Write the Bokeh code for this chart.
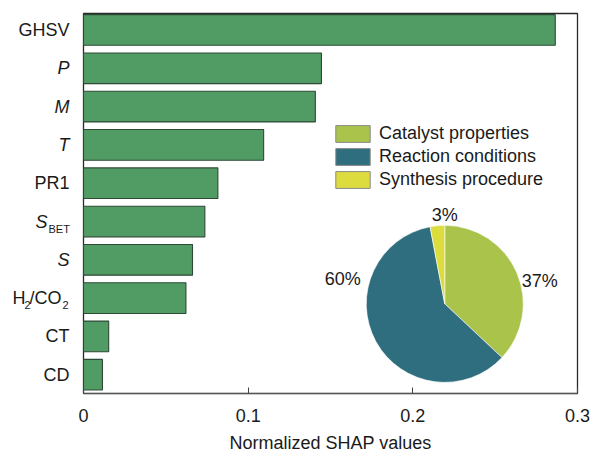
from bokeh.plotting import figure
from bokeh.layouts import row, column
from bokeh.models import (Range1d, Label, Legend, LegendItem, FixedTicker,
                          NumeralTickFormatter, ColumnDataSource)
from bokeh.core.properties import value
from bokeh.embed import file_html
from bokeh.resources import INLINE
import numpy as np

# ---- data ----
features = ["GHSV", "P", "M", "T", "PR1", "S_BET", "S", "H2/CO2", "CT", "CD"]
shap_values = [0.2865, 0.1445, 0.1408, 0.1094, 0.0816, 0.0737, 0.0662, 0.0622, 0.0153, 0.0115]
groups = ["Catalyst properties", "Reaction conditions", "Synthesis procedure"]
group_share = [37, 60, 3]
group_colors = ["#A9C34B", "#2F6E7E", "#DCDC3F"]
x_ticks = [0, 0.1, 0.2, 0.3]
x_title = "Normalized SHAP values"

FONT = "Liberation Sans"
TXT = "#1a1a1a"
H = 430          # height of bar panel
TOP, BOT = 13, 37
LW = 75          # width of label column

yr = Range1d(9.49, -0.43)
ypos = list(range(len(features)))

# ---------- label column (left) ----------
pl = figure(width=LW, height=H, output_backend="svg", toolbar_location=None,
            x_range=Range1d(0, LW), y_range=yr,
            min_border_left=0, min_border_right=0, min_border_top=TOP, min_border_bottom=BOT)
pl.axis.visible = False
pl.grid.visible = False
pl.outline_line_color = None
pl.border_fill_color = "white"

italic = {"P", "M", "T", "S"}
RIGHT = 69

def put(text, r, x, align="right", style="normal", size="18px", dy=0):
    pl.text(x=[x], y=[r], text=[text], text_align=align, text_baseline="middle",
            y_offset=dy, text_font=value(FONT), text_font_size=size,
            text_font_style=style, text_color=TXT)

for i, f in enumerate(features):
    if f == "S_BET":
        put("S", i, RIGHT - 22, style="italic")
        put("BET", i, RIGHT - 21, align="left", size="11px", dy=7)
    elif f == "H2/CO2":
        put("H", i, RIGHT - 57, align="left")
        put("2", i, RIGHT - 45, align="left", size="11px", dy=7)
        put("/CO", i, RIGHT - 40, align="left")
        put("2", i, RIGHT - 7, align="left", size="11px", dy=7)
    else:
        put(f, i, RIGHT, style="italic" if f in italic else "normal")

# ---------- main plot ----------
p = figure(width=593 - LW, height=H, output_backend="svg", toolbar_location=None,
           x_range=Range1d(0, 0.3), y_range=yr,
           min_border_left=83 - LW, min_border_top=TOP, min_border_right=16,
           min_border_bottom=BOT)
p.xgrid.visible = False
p.ygrid.visible = False
p.outline_line_color = "#2a2a2a"
p.outline_line_width = 1.3
p.border_fill_color = "white"

p.hbar(y=ypos, left=0, right=shap_values, height=0.8,
       fill_color="#519B64", line_color="#2E4A37", line_width=1.1)

p.yaxis.visible = False
xa = p.xaxis[0]
xa.ticker = FixedTicker(ticks=x_ticks)
xa.formatter = NumeralTickFormatter(format="0.[0]")
xa.major_tick_in = 6
xa.major_tick_out = 0
xa.minor_tick_line_color = None
xa.major_tick_line_color = "#444444"
xa.axis_line_color = "#555555"
xa.axis_line_width = 1.2
xa.major_label_standoff = 15
xa.major_label_text_font = FONT
xa.major_label_text_font_size = "18px"
xa.major_label_text_color = TXT

# pie
cx, cy, rad = 0.2194, 7.15, 78.5
frac = np.array(group_share, dtype=float) / sum(group_share)
cum = np.concatenate([[0], np.cumsum(frac)])
pie = ColumnDataSource(dict(
    group=groups, color=group_colors,
    start=np.deg2rad(90 - cum[1:] * 360), end=np.deg2rad(90 - cum[:-1] * 360)))
p.wedge(x=cx, y=cy, radius=rad, radius_units="screen", start_angle="start",
        end_angle="end", fill_color="color", line_color="white", line_width=0.6, source=pie)
leg_r = p.wedge(x=cx, y=cy, radius=0, radius_units="screen", start_angle="start",
                end_angle="end", fill_color="color", line_color="#8A8A8A",
                line_width=1, source=pie)

# percentage labels
pct_offsets = [(95, 23), (-102, 25), (0, 89)]
for k in range(len(groups)):
    dx, dy = pct_offsets[k]
    p.add_layout(Label(x=cx, y=cy, x_offset=dx, y_offset=dy, text=f"{group_share[k]}%",
                       text_align="center", text_baseline="middle", text_font=FONT,
                       text_font_size="18px", text_color=TXT))

# legend
items = [LegendItem(label=g, renderers=[leg_r], index=k) for k, g in enumerate(groups)]
leg = Legend(items=items, location=(248, 203), padding=0, margin=0, spacing=2,
             glyph_width=43, glyph_height=21, label_standoff=5,
             label_text_font=FONT, label_text_font_size="18px", label_text_color=TXT,
             border_line_color=None, background_fill_alpha=0)
p.add_layout(leg, "center")

# ---------- x-axis title strip ----------
TH = 455 - H
pt = figure(width=593, height=TH, output_backend="svg", toolbar_location=None,
            x_range=Range1d(0, 593), y_range=Range1d(0, TH),
            min_border_left=0, min_border_right=0, min_border_top=0, min_border_bottom=0)
pt.axis.visible = False
pt.grid.visible = False
pt.outline_line_color = None
pt.text(x=[(83 + 577) / 2], y=[TH / 2], text=[x_title], text_align="center",
        text_baseline="middle", text_font=value(FONT), text_font_size="18px",
        text_color=TXT)

layout = column(row(pl, p, spacing=0), pt, spacing=0)
open("out.html", "w").write(file_html(layout, INLINE))
